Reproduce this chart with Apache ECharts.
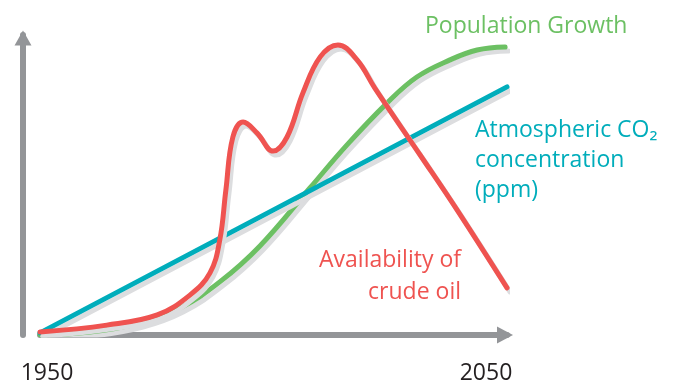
<!DOCTYPE html>
<html>
<head>
<meta charset="utf-8">
<script src="https://cdn.jsdelivr.net/npm/echarts@6/dist/echarts.min.js"></script>
<style>
  html, body { margin: 0; padding: 0; background: #fff; }
  #chart { width: 676px; height: 392px; }
</style>
</head>
<body>
<div id="chart"></div>
<script>
// 年份 / 数值
const yearTicks = [1950, 2050];

const co2 = [[1950, 0.7], [2050, 82.7]];

const population = [
  [1950, 0], [1960.7, 1], [1971.4, 4], [1980, 9], [1988.5, 17.7],
  [1997.1, 29.7], [2007.8, 49], [2015.7, 63.3], [2024.3, 77.3],
  [2030.7, 86], [2037.8, 91.7], [2043.6, 95], [2049.6, 96]
];

const crudeOil = [
  [1950, 1], [1964.3, 3.3], [1975.1, 6.7], [1982.1, 13.3], [1986.4, 20.7],
  [1988.5, 31.7], [1989.8, 48.3], [1991.3, 66], [1993.5, 71], [1996.5, 67.3],
  [1999.9, 61.3], [2002.9, 66], [2006.3, 80.7], [2010, 92.7], [2013.8, 96.7],
  [2017.9, 91.7], [2021.7, 82.3], [2031.4, 60], [2039.3, 41.7],
  [2050, 15.7]
];

const RED = '#ef5350';
const GREEN = '#6cc063';
const TEAL = '#00adbb';
const AXIS = '#939598';
const FONT = '"Open Sans", "Noto Sans", sans-serif';

const chart = echarts.init(document.getElementById('chart'));

const lineSeries = (name, data, color) => ({
  name,
  type: 'line',
  data,
  smooth: 0.4,
  showSymbol: false,
  silent: true,
  lineStyle: {
    color,
    width: 5,
    cap: 'round',
    join: 'round',
    shadowColor: '#dcdddf',
    shadowBlur: 0,
    shadowOffsetX: 3,
    shadowOffsetY: 4
  }
});

chart.setOption({
  animation: false,
  grid: { left: 40, right: 169, top: 35, bottom: 57 },
  xAxis: {
    type: 'value',
    min: 1950,
    max: 2050,
    interval: 50,
    offset: 18,
    splitLine: { show: false },
    axisTick: { show: false },
    axisLine: {
      show: true,
      symbol: ['none', 'triangle'],
      symbolSize: [17, 16],
      symbolOffset: [0, -2],
      lineStyle: { color: AXIS, width: 6 }
    },
    axisLabel: {
      showMinLabel: true,
      showMaxLabel: true,
      margin: 9,
      color: '#231f20',
      fontFamily: FONT,
      fontSize: 23,
      formatter: v => v === yearTicks[0] ? '{l|' + v + '}' : v === yearTicks[1] ? '{r|' + v + '}' : '',
      rich: {
        l: { padding: [0, 0, 0, 14], fontSize: 23, fontFamily: FONT, color: '#231f20' },
        r: { padding: [0, 42, 0, 0], fontSize: 23, fontFamily: FONT, color: '#231f20' }
      }
    }
  },
  yAxis: {
    type: 'value',
    min: 0,
    max: 100,
    offset: 17,
    splitLine: { show: false },
    axisTick: { show: false },
    axisLabel: { show: false },
    axisLine: {
      show: true,
      symbol: ['none', 'triangle'],
      symbolSize: [17, 15],
      symbolOffset: [0, -3],
      lineStyle: { color: AXIS, width: 6 }
    }
  },
  graphic: [
    {
      type: 'text', x: 425, y: 26,
      style: { text: 'Population Growth', fill: GREEN, font: '23px ' + FONT, verticalAlign: 'middle' }
    },
    {
      type: 'text', x: 475, y: 160,
      style: { text: 'Atmospheric CO\u2082\nconcentration\n(ppm)', fill: TEAL, font: '23px ' + FONT, lineHeight: 30, verticalAlign: 'middle' }
    },
    {
      type: 'text', x: 461, y: 276,
      style: { text: 'Availability of\ncrude oil', fill: RED, font: '23px ' + FONT, lineHeight: 32, align: 'right', verticalAlign: 'middle' }
    }
  ],
  series: [
    lineSeries('Population Growth', population, GREEN),
    lineSeries('Atmospheric CO2', co2, TEAL),
    lineSeries('Availability of crude oil', crudeOil, RED)
  ]
});
</script>
</body>
</html>
